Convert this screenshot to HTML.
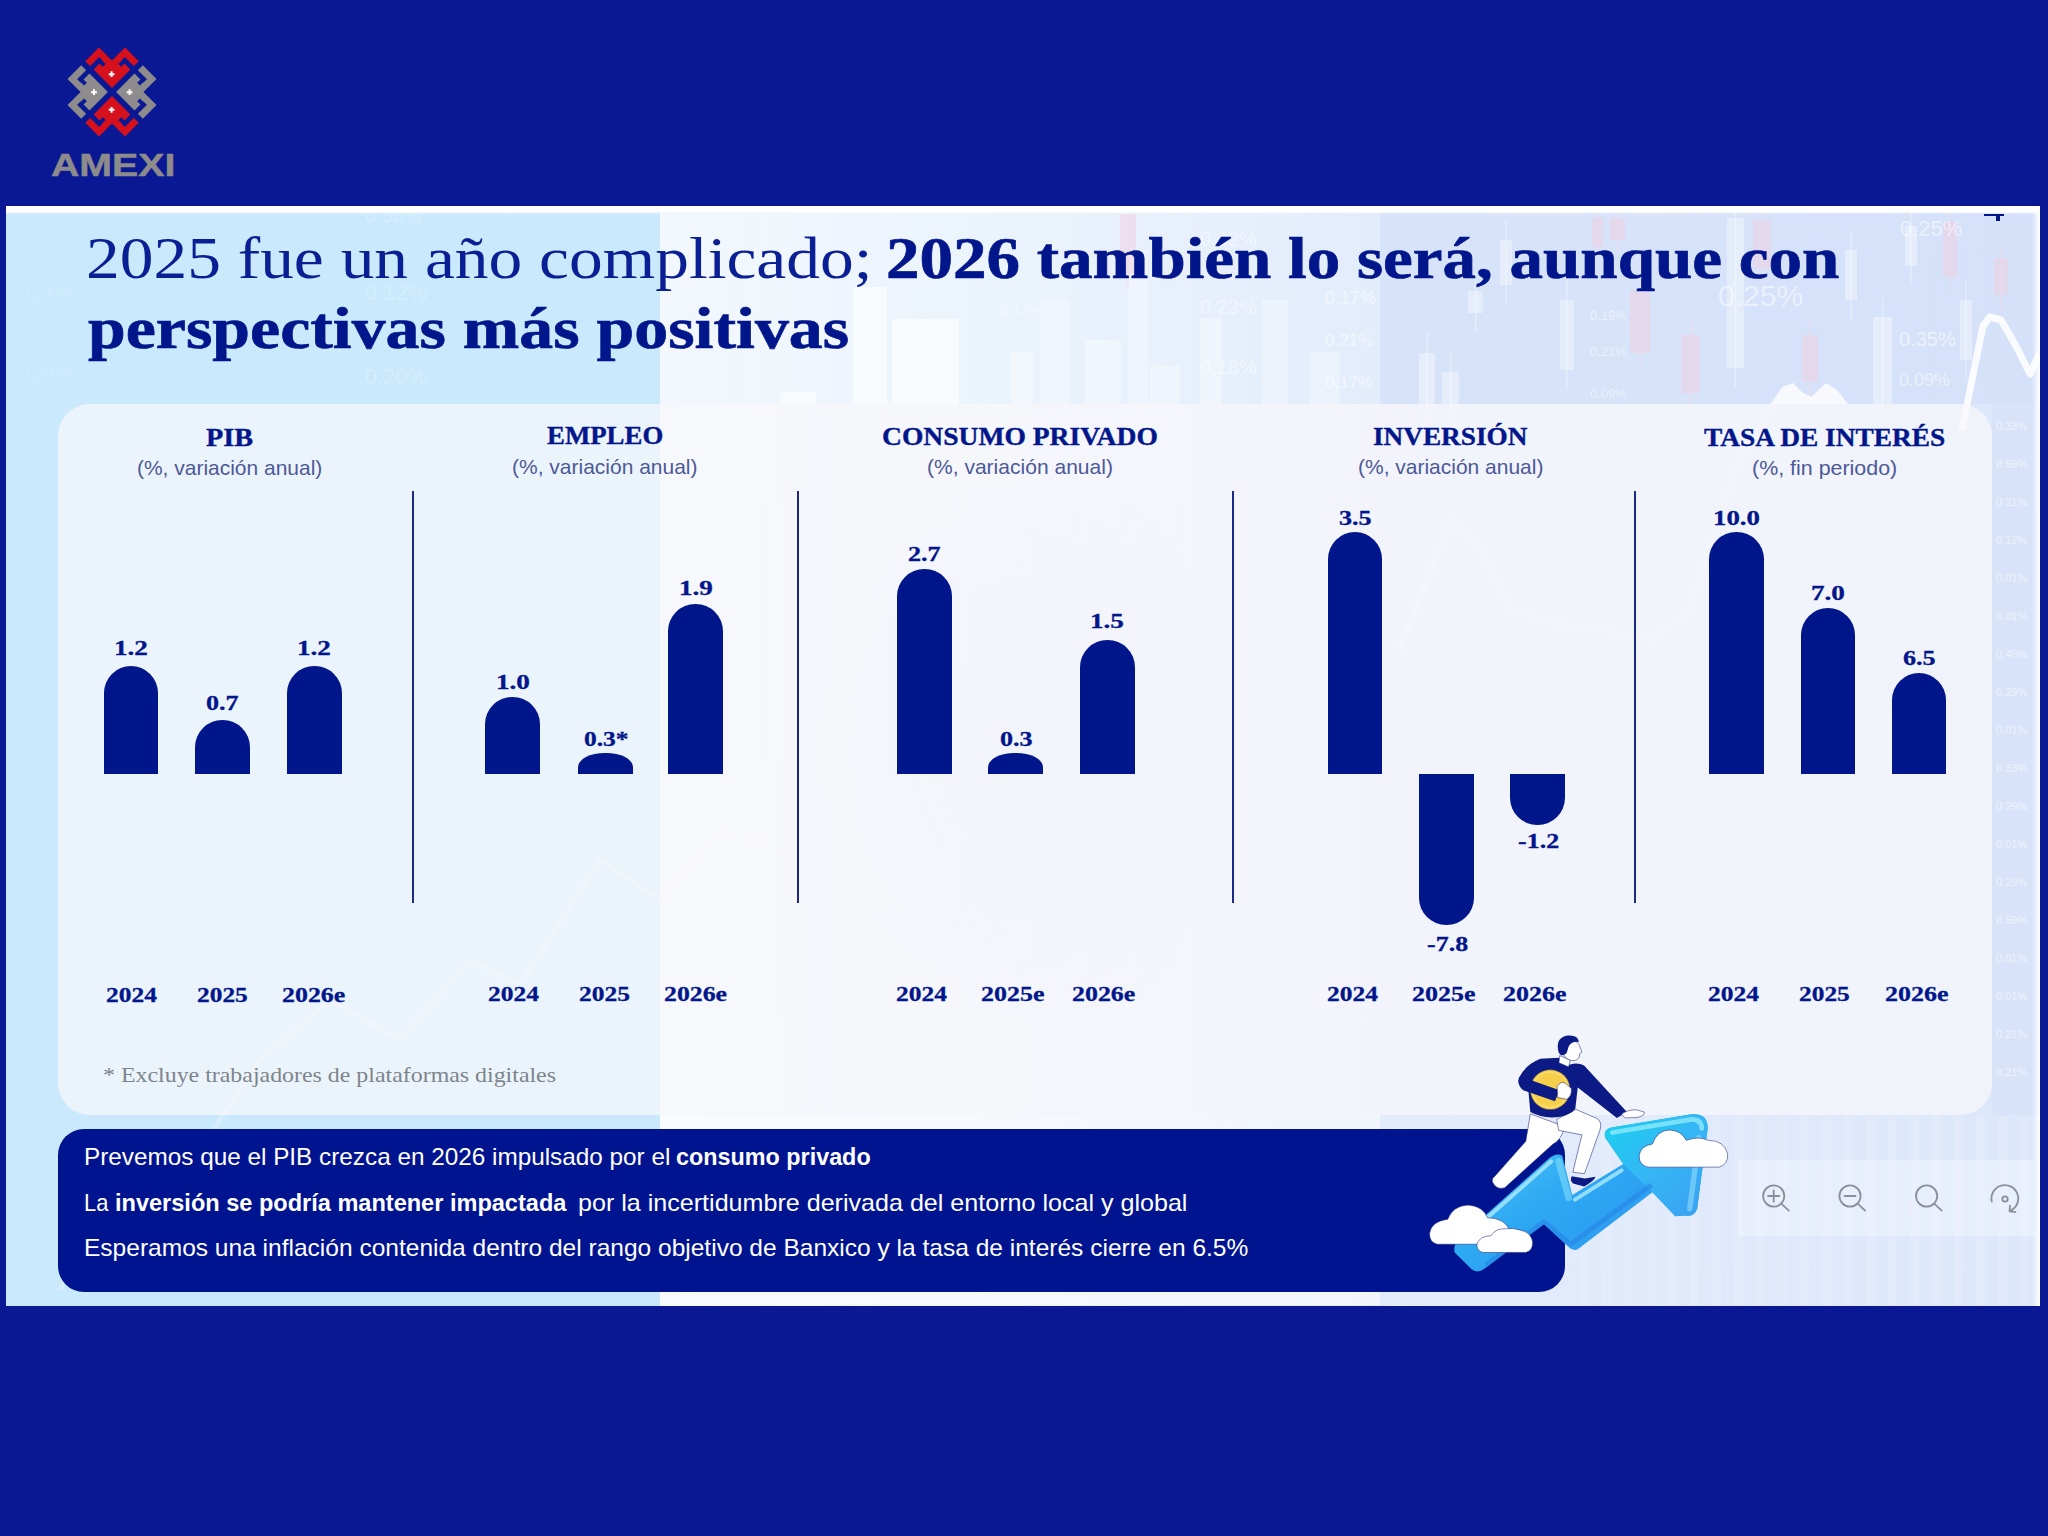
<!DOCTYPE html>
<html lang="es">
<head>
<meta charset="utf-8">
<title>AMEXI</title>
<style>
*{margin:0;padding:0;box-sizing:border-box}
html,body{width:2048px;height:1536px;overflow:hidden;background:#0a1993}
body{position:relative;font-family:"Liberation Sans",sans-serif}
#slide{position:absolute;left:6px;top:206px;width:2034px;height:1100px;background:#cbe9fc;overflow:hidden}
#slide .right{position:absolute;left:654px;top:0;width:1380px;height:1100px;background:linear-gradient(90deg,#f2f8fd 0,#ebf3fc 340px,#e3ecfb 720px,#dde7fb 1380px)}
#slide .topstrip{position:absolute;left:0;top:0;width:100%;height:9px;background:linear-gradient(#fff 0,#fff 6px,rgba(240,244,250,.6) 7px,rgba(255,255,255,0) 9px)}
#slide .rightstrip{position:absolute;right:0;top:0;width:8px;height:100%;background:linear-gradient(90deg,rgba(255,255,255,0),#fff)}
#card{position:absolute;left:52px;top:198px;width:1934px;height:711px;border-radius:32px;background:rgba(250,248,251,.7)}
.t{position:absolute;white-space:nowrap;line-height:1;transform-origin:0 50%}
.se{font-family:"Liberation Serif",serif}
.sa{font-family:"Liberation Sans",sans-serif}
.b{font-weight:bold}
.bar{position:absolute;width:54.6px;background:#02168c}
.up{border-radius:27.3px 27.3px 0 0}
.dn{border-radius:0 0 27.3px 27.3px}
.dv{position:absolute;width:2px;top:491px;height:412px;background:#1b2a85}
#box{position:absolute;left:58px;top:1129px;width:1507px;height:163px;border-radius:26px;background:#00148f}
</style>
</head>

<body>
<div id="slide">
  <div class="right"></div>
<svg class="deco" style="position:absolute;left:0;top:0" width="2034" height="1100" viewBox="6 206 2034 1100">
<rect x="1380" y="212" width="660" height="192" fill="#cfdef9" opacity=".6"/>
<rect x="1992" y="404" width="48" height="711" fill="#d3e0f8" opacity=".5"/>
<rect x="853" y="287" width="34" height="117" fill="#fff" opacity="0.55"/>
<rect x="892" y="319" width="67" height="85" fill="#fff" opacity="0.6"/>
<rect x="780" y="392" width="36" height="12" fill="#fff" opacity="0.5"/>
<rect x="1011" y="352" width="22" height="52" fill="#fff" opacity="0.35"/>
<rect x="1040" y="300" width="30" height="104" fill="#fff" opacity="0.3"/>
<rect x="1085" y="340" width="36" height="64" fill="#fff" opacity="0.35"/>
<rect x="1128" y="250" width="20" height="154" fill="#fff" opacity="0.3"/>
<rect x="1200" y="318" width="22" height="86" fill="#fff" opacity="0.4"/>
<rect x="1150" y="365" width="30" height="39" fill="#fff" opacity="0.3"/>
<rect x="1262" y="300" width="26" height="104" fill="#fff" opacity="0.3"/>
<rect x="1310" y="352" width="30" height="52" fill="#fff" opacity="0.3"/>
<rect x="1630" y="291" width="20" height="62" fill="#efcfe2" opacity=".55"/>
<rect x="1639.2" y="277" width="1.5" height="92" fill="#f3dbe9" opacity=".5"/>
<rect x="1681" y="335" width="19" height="58" fill="#efcfe2" opacity=".55"/>
<rect x="1689.8" y="321" width="1.5" height="88" fill="#f3dbe9" opacity=".5"/>
<rect x="1802" y="335" width="16" height="47" fill="#efcfe2" opacity=".55"/>
<rect x="1809.2" y="321" width="1.5" height="77" fill="#f3dbe9" opacity=".5"/>
<rect x="1753" y="220" width="18" height="49" fill="#efcfe2" opacity=".55"/>
<rect x="1761.2" y="206" width="1.5" height="79" fill="#f3dbe9" opacity=".5"/>
<rect x="1592" y="218" width="11" height="29" fill="#efcfe2" opacity=".55"/>
<rect x="1596.8" y="204" width="1.5" height="59" fill="#f3dbe9" opacity=".5"/>
<rect x="1610" y="218" width="15" height="22" fill="#efcfe2" opacity=".55"/>
<rect x="1616.8" y="204" width="1.5" height="52" fill="#f3dbe9" opacity=".5"/>
<rect x="1943" y="222" width="14" height="55" fill="#efcfe2" opacity=".55"/>
<rect x="1949.2" y="208" width="1.5" height="85" fill="#f3dbe9" opacity=".5"/>
<rect x="1994" y="258" width="14" height="37" fill="#efcfe2" opacity=".55"/>
<rect x="2000.2" y="244" width="1.5" height="67" fill="#f3dbe9" opacity=".5"/>
<rect x="1120" y="214" width="16" height="60" fill="#efcfe2" opacity=".55"/>
<rect x="1127.2" y="200" width="1.5" height="90" fill="#f3dbe9" opacity=".5"/>
<rect x="1419" y="353" width="16" height="51" fill="#fff" opacity=".38"/>
<rect x="1426.2" y="333" width="1.5" height="91" fill="#fff" opacity=".35"/>
<rect x="1442" y="372" width="17" height="32" fill="#fff" opacity=".38"/>
<rect x="1449.8" y="352" width="1.5" height="72" fill="#fff" opacity=".35"/>
<rect x="1468" y="291" width="15" height="22" fill="#fff" opacity=".38"/>
<rect x="1474.8" y="271" width="1.5" height="62" fill="#fff" opacity=".35"/>
<rect x="1727" y="218" width="17" height="150" fill="#fff" opacity=".38"/>
<rect x="1734.8" y="198" width="1.5" height="190" fill="#fff" opacity=".35"/>
<rect x="1873" y="317" width="19" height="87" fill="#fff" opacity=".38"/>
<rect x="1881.8" y="297" width="1.5" height="127" fill="#fff" opacity=".35"/>
<rect x="1905" y="226" width="12" height="40" fill="#fff" opacity=".38"/>
<rect x="1910.2" y="206" width="1.5" height="80" fill="#fff" opacity=".35"/>
<rect x="1560" y="300" width="14" height="70" fill="#fff" opacity=".38"/>
<rect x="1566.2" y="280" width="1.5" height="110" fill="#fff" opacity=".35"/>
<rect x="1500" y="240" width="12" height="45" fill="#fff" opacity=".38"/>
<rect x="1505.2" y="220" width="1.5" height="85" fill="#fff" opacity=".35"/>
<rect x="1960" y="300" width="12" height="60" fill="#fff" opacity=".38"/>
<rect x="1965.2" y="280" width="1.5" height="100" fill="#fff" opacity=".35"/>
<rect x="1845" y="250" width="12" height="50" fill="#fff" opacity=".38"/>
<rect x="1850.2" y="230" width="1.5" height="90" fill="#fff" opacity=".35"/>
<path d="M1771 404L1782 387L1793 383L1802 392L1811 397L1826 383L1837 390L1848 404Z" fill="#fff" opacity=".8"/>
<path d="M1962 430L1972 380L1983 326L1990 317L2001 320L2016 346L2030 374L2040 352" fill="none" stroke="#fff" stroke-width="7" stroke-linejoin="round" opacity=".85"/>
<g font-family="Liberation Sans,sans-serif">
<text x="1718" y="306" font-size="30" fill="#fff" opacity="0.5">0.25%</text>
<text x="1899" y="346" font-size="20" fill="#fff" opacity="0.55">0.35%</text>
<text x="1899" y="386" font-size="18" fill="#fff" opacity="0.55">0.09%</text>
<text x="1900" y="236" font-size="22" fill="#fff" opacity="0.5">0.25%</text>
<text x="1325" y="304" font-size="18" fill="#fff" opacity="0.55">0.17%</text>
<text x="1325" y="346" font-size="17" fill="#fff" opacity="0.55">0.21%</text>
<text x="1325" y="388" font-size="17" fill="#fff" opacity="0.55">0.17%</text>
<text x="1590" y="320" font-size="13" fill="#fff" opacity="0.5">0.19%</text>
<text x="1590" y="356" font-size="13" fill="#fff" opacity="0.5">0.21%</text>
<text x="1590" y="398" font-size="13" fill="#fff" opacity="0.5">0.09%</text>
<text x="1200" y="246" font-size="20" fill="#fff" opacity="0.45">0.42%</text>
<text x="1200" y="314" font-size="20" fill="#fff" opacity="0.45">0.23%</text>
<text x="1200" y="374" font-size="20" fill="#fff" opacity="0.45">0.18%</text>
<text x="365" y="222" font-size="20" fill="#fff" opacity="0.2">0.38%</text>
<text x="365" y="300" font-size="22" fill="#fff" opacity="0.2">0.12%</text>
<text x="365" y="384" font-size="22" fill="#fff" opacity="0.2">0.20%</text>
<text x="1000" y="316" font-size="15" fill="#fff" opacity="0.4">0.14%</text>
<text x="20" y="300" font-size="18" fill="#fff" opacity="0.12">0.21%</text>
<text x="20" y="380" font-size="18" fill="#fff" opacity="0.12">0.23%</text>
<text x="1996" y="430" font-size="11" fill="#fff" opacity="0.55">0.33%</text>
<text x="1996" y="468" font-size="11" fill="#fff" opacity="0.55">0.59%</text>
<text x="1996" y="506" font-size="11" fill="#fff" opacity="0.55">0.21%</text>
<text x="1996" y="544" font-size="11" fill="#fff" opacity="0.55">0.12%</text>
<text x="1996" y="582" font-size="11" fill="#fff" opacity="0.55">0.01%</text>
<text x="1996" y="620" font-size="11" fill="#fff" opacity="0.55">0.01%</text>
<text x="1996" y="658" font-size="11" fill="#fff" opacity="0.55">0.45%</text>
<text x="1996" y="696" font-size="11" fill="#fff" opacity="0.55">0.29%</text>
<text x="1996" y="734" font-size="11" fill="#fff" opacity="0.55">0.01%</text>
<text x="1996" y="772" font-size="11" fill="#fff" opacity="0.55">0.33%</text>
<text x="1996" y="810" font-size="11" fill="#fff" opacity="0.55">0.29%</text>
<text x="1996" y="848" font-size="11" fill="#fff" opacity="0.55">0.01%</text>
<text x="1996" y="886" font-size="11" fill="#fff" opacity="0.55">0.29%</text>
<text x="1996" y="924" font-size="11" fill="#fff" opacity="0.55">0.59%</text>
<text x="1996" y="962" font-size="11" fill="#fff" opacity="0.55">0.01%</text>
<text x="1996" y="1000" font-size="11" fill="#fff" opacity="0.55">0.01%</text>
<text x="1996" y="1038" font-size="11" fill="#fff" opacity="0.55">0.21%</text>
<text x="1996" y="1076" font-size="11" fill="#fff" opacity="0.55">0.21%</text>
</g>
<path d="M60 1290L120 1180L200 1150L260 1060L330 1000L400 1040L470 960L520 985L600 860L660 900L720 830L780 850" fill="none" stroke="#fff" stroke-width="5" stroke-linejoin="round" opacity=".2"/>
<path d="M1400 650L1450 520L1485 555L1510 610L1560 625L1600 630L1650 640L1690 610L1735 470L1775 400" fill="none" stroke="#fff" stroke-width="6" stroke-linejoin="round" opacity=".22"/>
<defs><radialGradient id="em"><stop offset="0" stop-color="#d3e4f6" stop-opacity=".38"/><stop offset=".7" stop-color="#d3e4f6" stop-opacity=".22"/><stop offset="1" stop-color="#d3e4f6" stop-opacity="0"/></radialGradient></defs><ellipse cx="1030" cy="750" rx="230" ry="280" fill="url(#em)"/>
<rect x="1580" y="1116" width="9" height="189" fill="#fff" opacity=".12"/>
<rect x="1602" y="1116" width="9" height="189" fill="#fff" opacity=".12"/>
<rect x="1624" y="1116" width="9" height="189" fill="#fff" opacity=".12"/>
<rect x="1646" y="1116" width="9" height="189" fill="#fff" opacity=".12"/>
<rect x="1668" y="1116" width="9" height="189" fill="#fff" opacity=".12"/>
<rect x="1690" y="1116" width="9" height="189" fill="#fff" opacity=".12"/>
<rect x="1712" y="1116" width="9" height="189" fill="#fff" opacity=".12"/>
<rect x="1734" y="1116" width="9" height="189" fill="#fff" opacity=".12"/>
<rect x="1756" y="1116" width="9" height="189" fill="#fff" opacity=".12"/>
<rect x="1778" y="1116" width="9" height="189" fill="#fff" opacity=".12"/>
<rect x="1800" y="1116" width="9" height="189" fill="#fff" opacity=".12"/>
<rect x="1822" y="1116" width="9" height="189" fill="#fff" opacity=".12"/>
<rect x="1844" y="1116" width="9" height="189" fill="#fff" opacity=".12"/>
<rect x="1866" y="1116" width="9" height="189" fill="#fff" opacity=".12"/>
<rect x="1888" y="1116" width="9" height="189" fill="#fff" opacity=".12"/>
<rect x="1910" y="1116" width="9" height="189" fill="#fff" opacity=".12"/>
<rect x="1932" y="1116" width="9" height="189" fill="#fff" opacity=".12"/>
<rect x="1954" y="1116" width="9" height="189" fill="#fff" opacity=".12"/>
<rect x="1976" y="1116" width="9" height="189" fill="#fff" opacity=".12"/>
<rect x="1998" y="1116" width="9" height="189" fill="#fff" opacity=".12"/>
<rect x="2020" y="1116" width="9" height="189" fill="#fff" opacity=".12"/>
<rect id="wb" x="660" y="1115" width="720" height="190" fill="#fff" opacity=".5"/>
</svg>

  <div id="card"></div>
  <div class="topstrip"></div>
  <div class="rightstrip"></div>
</div>

<div class="dv" style="left:412px"></div>
<div class="dv" style="left:797px"></div>
<div class="dv" style="left:1232px"></div>
<div class="dv" style="left:1634px"></div>

<!-- PIB -->
<div class="bar up" style="left:103.7px;top:666px;height:108px"></div>
<div class="bar up" style="left:195.3px;top:720px;height:54px"></div>
<div class="bar up" style="left:287px;top:666px;height:108px"></div>
<!-- EMPLEO -->
<div class="bar up" style="left:485.3px;top:697px;height:77px"></div>
<div class="bar" style="left:578px;top:752.7px;height:21.3px;border-radius:27px 27px 0 0/14px 14px 0 0"></div>
<div class="bar up" style="left:668.4px;top:603.5px;height:170.5px"></div>
<!-- CONSUMO -->
<div class="bar up" style="left:897px;top:568.7px;height:205.3px"></div>
<div class="bar" style="left:988.2px;top:752.7px;height:21.3px;border-radius:27px 27px 0 0/14px 14px 0 0"></div>
<div class="bar up" style="left:1080px;top:640px;height:134px"></div>
<!-- INVERSION -->
<div class="bar up" style="left:1327.6px;top:531.7px;height:242.3px"></div>
<div class="bar dn" style="left:1419.4px;top:774px;height:151.3px"></div>
<div class="bar dn" style="left:1510.2px;top:774px;height:51.4px"></div>
<!-- TASA -->
<div class="bar up" style="left:1709px;top:531.7px;height:242.3px"></div>
<div class="bar up" style="left:1800.6px;top:607.8px;height:166.2px"></div>
<div class="bar up" style="left:1891.7px;top:673.4px;height:100.6px"></div>

<div id="box"></div>

<!-- logo -->
<svg style="position:absolute;left:52px;top:32px" width="120" height="120" viewBox="-60 -60 120 120">
  <defs>
    <g id="lp">
      <!-- piece drawn in rotated grid (unit = 7px). origin = inner vertex -->
      <g transform="matrix(-4.95 4.95 4.95 4.95 0 -4.1)">
        <path d="M0 0H-3.72V-1.2H-3.05V-1.76H-3.72V-1.82H-4.4V0H-5.4V-2.76H-2.76V-5.4H0V-4.4H-1.82V-3.72H-1.76V-3.05H-1.2V-3.72H0Z"/>
      </g>
    </g>
    <g id="pl"><path d="M-2.9 -1H-1V-2.9H1V-1H2.9V1H1V2.9H-1V1H-2.9Z" fill="#fff"/></g>
  </defs>
  <use href="#lp" fill="#d6101c"/>
  <use href="#lp" fill="#d6101c" transform="rotate(180)"/>
  <use href="#lp" fill="#8d8b8b" transform="rotate(90)"/>
  <use href="#lp" fill="#8d8b8b" transform="rotate(-90)"/>
  <use href="#pl" transform="translate(-0.4 -17.8)"/>
  <use href="#pl" transform="translate(-0.4 17.8)"/>
  <use href="#pl" transform="translate(-18 0.2)"/>
  <use href="#pl" transform="translate(17.6 0.2)"/>
</svg>

<div class="t se" style="left:85.8px;top:227.9px;font-size:60px;color:#0a1f94;transform:scaleX(1.1237);">2025 fue un año complicado;</div>
<div class="t se b" style="left:885.7px;top:228.8px;font-size:59px;color:#02168c;transform:scaleX(1.1359);-webkit-text-stroke:.7px #02168c;">2026 también lo será, aunque con</div>
<div class="t se b" style="left:88.0px;top:299.2px;font-size:59px;color:#02168c;transform:scaleX(1.1495);-webkit-text-stroke:.7px #02168c;">perspectivas más positivas</div>
<div class="t se b" style="left:206.3px;top:425.5px;font-size:24.5px;color:#02168c;transform:scaleX(1.1531);-webkit-text-stroke:.35px #02168c;">PIB</div>
<div class="t se b" style="left:547.3px;top:424.3px;font-size:24.5px;color:#02168c;transform:scaleX(1.0950);-webkit-text-stroke:.35px #02168c;">EMPLEO</div>
<div class="t se b" style="left:881.8px;top:424.5px;font-size:24.5px;color:#02168c;transform:scaleX(1.1247);-webkit-text-stroke:.35px #02168c;">CONSUMO PRIVADO</div>
<div class="t se b" style="left:1372.7px;top:424.5px;font-size:24.5px;color:#02168c;transform:scaleX(1.1116);-webkit-text-stroke:.35px #02168c;">INVERSIÓN</div>
<div class="t se b" style="left:1704.0px;top:425.5px;font-size:24.5px;color:#02168c;transform:scaleX(1.1164);-webkit-text-stroke:.35px #02168c;">TASA DE INTERÉS</div>
<div class="t sa" style="left:136.7px;top:456.7px;font-size:21px;color:#4c5998;transform:scaleX(0.9984);">(%, variación anual)</div>
<div class="t sa" style="left:511.5px;top:455.7px;font-size:21px;color:#4c5998;transform:scaleX(0.9995);">(%, variación anual)</div>
<div class="t sa" style="left:926.5px;top:455.7px;font-size:21px;color:#4c5998;transform:scaleX(1.0017);">(%, variación anual)</div>
<div class="t sa" style="left:1357.6px;top:455.7px;font-size:21px;color:#4c5998;transform:scaleX(0.9990);">(%, variación anual)</div>
<div class="t sa" style="left:1751.8px;top:456.7px;font-size:21px;color:#4c5998;transform:scaleX(1.0199);">(%, fin periodo)</div>
<div class="t se b" style="left:113.7px;top:638.0px;font-size:21px;color:#02168c;transform:scaleX(1.2929);-webkit-text-stroke:.3px #02168c;">1.2</div>
<div class="t se b" style="left:206.0px;top:693.2px;font-size:21px;color:#02168c;transform:scaleX(1.2427);-webkit-text-stroke:.3px #02168c;">0.7</div>
<div class="t se b" style="left:296.7px;top:638.0px;font-size:21px;color:#02168c;transform:scaleX(1.2929);-webkit-text-stroke:.3px #02168c;">1.2</div>
<div class="t se b" style="left:495.7px;top:672.4px;font-size:21px;color:#02168c;transform:scaleX(1.2929);-webkit-text-stroke:.3px #02168c;">1.0</div>
<div class="t se b" style="left:583.5px;top:729.4px;font-size:21px;color:#02168c;transform:scaleX(1.2138);-webkit-text-stroke:.3px #02168c;">0.3*</div>
<div class="t se b" style="left:678.7px;top:578.2px;font-size:21px;color:#02168c;transform:scaleX(1.2929);-webkit-text-stroke:.3px #02168c;">1.9</div>
<div class="t se b" style="left:908.3px;top:544.0px;font-size:21px;color:#02168c;transform:scaleX(1.2427);-webkit-text-stroke:.3px #02168c;">2.7</div>
<div class="t se b" style="left:999.8px;top:729.4px;font-size:21px;color:#02168c;transform:scaleX(1.2427);-webkit-text-stroke:.3px #02168c;">0.3</div>
<div class="t se b" style="left:1090.2px;top:611.4px;font-size:21px;color:#02168c;transform:scaleX(1.2929);-webkit-text-stroke:.3px #02168c;">1.5</div>
<div class="t se b" style="left:1339.4px;top:508.4px;font-size:21px;color:#02168c;transform:scaleX(1.2427);-webkit-text-stroke:.3px #02168c;">3.5</div>
<div class="t se b" style="left:1426.5px;top:933.8px;font-size:21px;color:#02168c;transform:scaleX(1.2369);-webkit-text-stroke:.3px #02168c;">-7.8</div>
<div class="t se b" style="left:1517.8px;top:830.7px;font-size:21px;color:#02168c;transform:scaleX(1.2369);-webkit-text-stroke:.3px #02168c;">-1.2</div>
<div class="t se b" style="left:1712.6px;top:508.4px;font-size:21px;color:#02168c;transform:scaleX(1.2766);-webkit-text-stroke:.3px #02168c;">10.0</div>
<div class="t se b" style="left:1810.5px;top:583.0px;font-size:21px;color:#02168c;transform:scaleX(1.2929);-webkit-text-stroke:.3px #02168c;">7.0</div>
<div class="t se b" style="left:1903.0px;top:647.7px;font-size:21px;color:#02168c;transform:scaleX(1.2427);-webkit-text-stroke:.3px #02168c;">6.5</div>
<div class="t se b" style="left:105.5px;top:984.1px;font-size:22px;color:#02168c;transform:scaleX(1.1568);-webkit-text-stroke:.3px #02168c;">2024</div>
<div class="t se b" style="left:197.3px;top:984.1px;font-size:22px;color:#02168c;transform:scaleX(1.1545);-webkit-text-stroke:.3px #02168c;">2025</div>
<div class="t se b" style="left:282.4px;top:984.1px;font-size:22px;color:#02168c;transform:scaleX(1.1778);-webkit-text-stroke:.3px #02168c;">2026e</div>
<div class="t se b" style="left:487.7px;top:982.9px;font-size:22px;color:#02168c;transform:scaleX(1.1568);-webkit-text-stroke:.3px #02168c;">2024</div>
<div class="t se b" style="left:579.0px;top:982.9px;font-size:22px;color:#02168c;transform:scaleX(1.1568);-webkit-text-stroke:.3px #02168c;">2025</div>
<div class="t se b" style="left:664.0px;top:982.9px;font-size:22px;color:#02168c;transform:scaleX(1.1722);-webkit-text-stroke:.3px #02168c;">2026e</div>
<div class="t se b" style="left:896.0px;top:982.9px;font-size:22px;color:#02168c;transform:scaleX(1.1568);-webkit-text-stroke:.3px #02168c;">2024</div>
<div class="t se b" style="left:981.1px;top:982.9px;font-size:22px;color:#02168c;transform:scaleX(1.1796);-webkit-text-stroke:.3px #02168c;">2025e</div>
<div class="t se b" style="left:1072.4px;top:982.9px;font-size:22px;color:#02168c;transform:scaleX(1.1778);-webkit-text-stroke:.3px #02168c;">2026e</div>
<div class="t se b" style="left:1326.7px;top:982.9px;font-size:22px;color:#02168c;transform:scaleX(1.1568);-webkit-text-stroke:.3px #02168c;">2024</div>
<div class="t se b" style="left:1411.8px;top:982.9px;font-size:22px;color:#02168c;transform:scaleX(1.1796);-webkit-text-stroke:.3px #02168c;">2025e</div>
<div class="t se b" style="left:1503.0px;top:982.9px;font-size:22px;color:#02168c;transform:scaleX(1.1796);-webkit-text-stroke:.3px #02168c;">2026e</div>
<div class="t se b" style="left:1708.0px;top:982.9px;font-size:22px;color:#02168c;transform:scaleX(1.1591);-webkit-text-stroke:.3px #02168c;">2024</div>
<div class="t se b" style="left:1799.4px;top:982.9px;font-size:22px;color:#02168c;transform:scaleX(1.1545);-webkit-text-stroke:.3px #02168c;">2025</div>
<div class="t se b" style="left:1884.5px;top:982.9px;font-size:22px;color:#02168c;transform:scaleX(1.1796);-webkit-text-stroke:.3px #02168c;">2026e</div>
<div class="t sa b" style="left:51.0px;top:148.7px;font-size:32px;color:#8d8b8b;transform:scaleX(1.2267);-webkit-text-stroke:.5px #8d8b8b;">AMEXI</div>
<div class="t se" style="left:102.9px;top:1065.4px;font-size:21px;color:#7d848c;transform:scaleX(1.1375);">* Excluye trabajadores de plataformas digitales</div>
<div class="t sa" style="left:84.0px;top:1145.3px;font-size:24px;color:#ffffff;transform:scaleX(1.0127);">Prevemos que el PIB crezca en 2026 impulsado por el</div>
<div class="t sa b" style="left:676.0px;top:1145.3px;font-size:24px;color:#ffffff;transform:scaleX(0.9731);">consumo privado</div>
<div class="t sa" style="left:84.1px;top:1190.7px;font-size:24px;color:#ffffff;transform:scaleX(0.9109);">La</div>
<div class="t sa b" style="left:115.0px;top:1190.7px;font-size:24px;color:#ffffff;transform:scaleX(0.9809);">inversión se podría mantener impactada</div>
<div class="t sa" style="left:578.0px;top:1190.7px;font-size:24px;color:#ffffff;transform:scaleX(1.0453);">por la incertidumbre derivada del entorno local y global</div>
<div class="t sa" style="left:84.0px;top:1236.2px;font-size:24px;color:#ffffff;transform:scaleX(1.0219);">Esperamos una inflación contenida dentro del rango objetivo de Banxico y la tasa de interés cierre en 6.5%</div>
<!-- illustration: person climbing arrow -->
<svg style="position:absolute;left:1400px;top:1010px" width="360" height="280" viewBox="0 0 1975 1536">
  <defs>
    <linearGradient id="ag" x1="0" y1="0" x2="1" y2="1">
      <stop offset="0" stop-color="#58d4fa"/><stop offset=".45" stop-color="#2ea9f3"/><stop offset="1" stop-color="#2b8fee"/>
    </linearGradient>
    <linearGradient id="ah" x1="0" y1="0" x2="1" y2="1">
      <stop offset="0" stop-color="#19d2ee"/><stop offset=".5" stop-color="#35b6f5"/><stop offset="1" stop-color="#3aa0f2"/>
    </linearGradient>
  </defs>
  <!-- arrow -->
  <path d="M300 1330Q290 1290 330 1250L820 812Q860 780 890 800L945 1015L1225 845L1125 700Q1115 655 1160 645L1600 572Q1690 565 1688 650L1630 1090Q1615 1135 1565 1128L1510 1132L1385 1000L975 1312Q950 1325 925 1300L790 1175L455 1425Q420 1445 390 1420Z" fill="url(#ag)"/>
  <path d="M1225 845L1125 700Q1115 655 1160 645L1600 572Q1690 565 1688 650L1630 1090Q1615 1135 1565 1128L1510 1132L1385 1000Z" fill="url(#ah)"/>
  <path d="M330 1270L830 830M960 1040L1215 880" stroke="#b5efff" stroke-width="22" stroke-linecap="round" fill="none" opacity=".75"/>
  <path d="M1165 672L1600 600Q1655 600 1655 650" stroke="#9af0fb" stroke-width="26" stroke-linecap="round" fill="none" opacity=".7"/>
  <path d="M1640 700L1590 1090" stroke="#8fdcfb" stroke-width="30" stroke-linecap="round" fill="none" opacity=".6"/>
  <path d="M470 1400L790 1160L935 1285L1380 960" stroke="#2583e6" stroke-width="26" stroke-linejoin="round" fill="none" opacity=".55"/>
  <path d="M870 830L925 1030" stroke="#7fdcfb" stroke-width="36" stroke-linecap="round" opacity=".6"/>
  <!-- back leg -->
  <path d="M715 570L905 640Q880 720 840 735L575 975Q530 990 508 945Q500 925 520 912L690 720Z" fill="#fff" stroke="#1a2377" stroke-width="3"/>
  <!-- front leg -->
  <path d="M860 600L965 545L1080 595Q1110 615 1098 655L1012 898L948 890L998 685L870 660Z" fill="#fff" stroke="#1a2377" stroke-width="3"/>
  <!-- shoe -->
  <path d="M942 912L1015 925L1072 915Q1070 935 1010 968L950 952Q930 935 942 912Z" fill="#0b1a85"/>
  <!-- torso + right arm -->
  <path d="M870 262L770 268Q690 300 655 368Q640 400 665 425L705 450L715 560Q790 600 880 585Q945 570 962 540L975 425L1190 592L1245 560L1010 305Q975 285 930 300Z" fill="#0b1a85"/>
  <!-- coin -->
  <circle cx="824" cy="437" r="110" fill="#f6d04a" stroke="#1a2377" stroke-width="3"/>
  <circle cx="824" cy="437" r="97" fill="none" stroke="#fde68a" stroke-width="5"/>
  <!-- left arm over coin -->
  <path d="M655 368Q640 410 675 440L850 500L875 440L720 385Z" fill="#0b1a85"/>
  <!-- hands -->
  <path d="M862 420Q880 390 905 400L940 430Q945 470 915 490L865 480Z" fill="#fff" stroke="#1a2377" stroke-width="3"/>
  <path d="M1215 572Q1250 545 1300 548L1340 560Q1345 580 1300 590L1235 592Z" fill="#fff" stroke="#1a2377" stroke-width="3"/>
  <!-- neck / head -->
  <path d="M876 250L935 275L925 312L872 290Z" fill="#fff" stroke="#1a2377" stroke-width="3"/>
  <path d="M905 180Q960 150 985 195L998 232L985 240Q990 270 955 278Q920 280 900 250Z" fill="#fff" stroke="#1a2377" stroke-width="3"/>
  <path d="M866 210Q860 150 920 140Q975 135 982 175Q940 170 925 200L915 235Q905 250 885 248Q868 240 866 210Z" fill="#0b1a85"/>
  <!-- clouds -->
  <path d="M1360 862Q1310 850 1312 800Q1318 745 1385 735Q1410 660 1480 658Q1545 662 1570 715Q1640 690 1690 715Q1780 715 1798 790Q1800 850 1750 862Z" fill="#fff" stroke="#1a2377" stroke-width="3"/>
  <path d="M205 1285Q160 1275 162 1225Q172 1160 262 1148Q290 1075 372 1070Q455 1075 480 1140Q575 1140 605 1215Q610 1275 565 1285Z" fill="#fff" stroke="#1a2377" stroke-width="3"/>
  <path d="M455 1330Q420 1320 422 1285Q435 1240 500 1238Q525 1195 585 1200Q620 1195 650 1205Q720 1215 728 1275Q728 1322 690 1330Z" fill="#fff" stroke="#1a2377" stroke-width="3"/>
</svg>

<!-- viewer toolbar -->
<div style="position:absolute;left:1738px;top:1160px;width:296px;height:76px;background:rgba(255,255,255,.3)"></div>
<svg style="position:absolute;left:1738px;top:1160px" width="296" height="76" viewBox="1738 1160 296 76" fill="none" stroke="#8b9098" stroke-width="1.8" stroke-linecap="round">
  <circle cx="1773.7" cy="1196" r="10.6"/><path d="M1781.6 1203.9L1788.8 1210.6M1768 1196H1779.4M1773.7 1190.3V1201.7"/>
  <circle cx="1850" cy="1196" r="10.6"/><path d="M1857.9 1203.9L1865.1 1210.6M1844.5 1196H1855.5"/>
  <circle cx="1926.6" cy="1196" r="10.6"/><path d="M1934.5 1203.9L1941.7 1210.6"/>
  <path d="M1991.8 1201.6A13.4 13.4 0 1 1 2009.8 1211M2010 1205.6L2009.6 1211.2L2015.4 1212.2"/>
  <circle cx="2005" cy="1199" r="2.7"/>
</svg>
<!-- page number fragment -->
<div style="position:absolute;left:1984px;top:213.5px;width:20px;height:2.2px;background:#02168c"></div>
<div style="position:absolute;left:1996px;top:213.5px;width:3.6px;height:7.6px;background:#02168c"></div>



</body>
</html>
